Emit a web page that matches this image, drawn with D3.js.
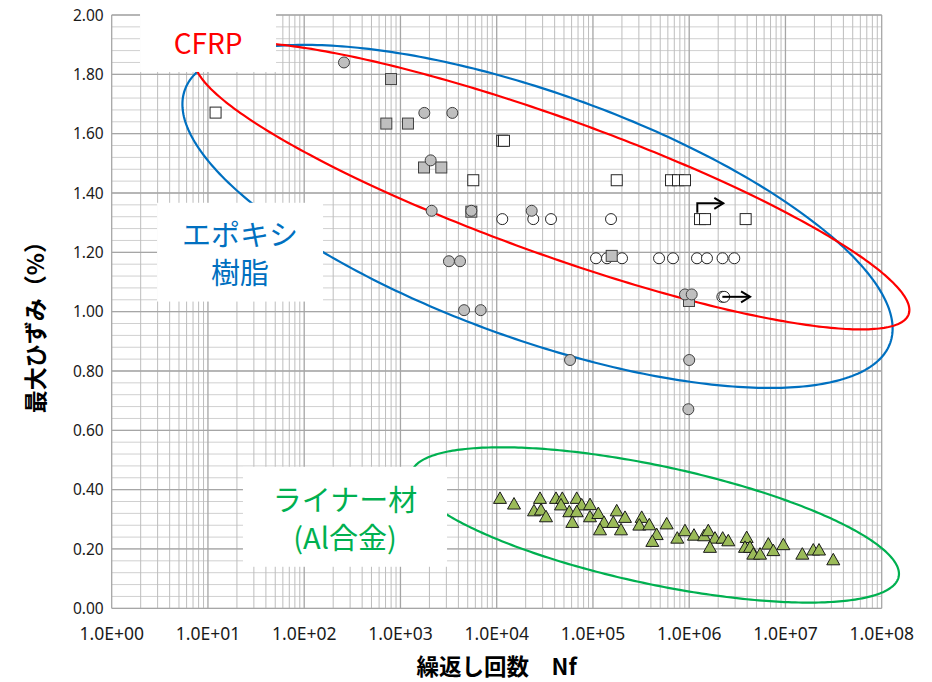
<!DOCTYPE html>
<html>
<head>
<meta charset="utf-8">
<script src="https://cdn.jsdelivr.net/npm/d3@7"></script>
<style>
body { margin: 0; background: #fff; }
svg { display: block; }
</style>
</head>
<body>
<script>
const width = 932;
const height = 682;
const plot = { left: 111.7, right: 881.7, top: 15, bottom: 608.3 };

// Data points: [cycles to failure Nf, max strain %]
const epoxyGray = [
    [259, 1.84], [1770, 1.67], [3460, 1.67], [2060, 1.51], [2110, 1.34],
    [5450, 1.34], [23100, 1.34], [3190, 1.17], [4160, 1.17], [4580, 1.005],
    [6820, 1.005], [57800, 0.837], [1.0e6, 0.837], [9.8e5, 0.671],
    [9.04e5, 1.058], [1.062e6, 1.058]
];
const epoxyOpen = [
    [11430, 1.312], [23990, 1.312], [36660, 1.312], [154100, 1.312],
    [107600, 1.18], [140000, 1.18], [200500, 1.18], [486000, 1.18], [679000, 1.18],
    [1205000, 1.18], [1530000, 1.18], [2220000, 1.18], [2940000, 1.18],
    [2210000, 1.05], [2310000, 1.05]
];
const cfrpGray = [
    [798, 1.784], [713, 1.634], [1197, 1.634], [1757, 1.486], [2657, 1.486],
    [5450, 1.337], [156600, 1.188], [995000, 1.036]
];
const cfrpOpen = [
    [12, 1.671], [11400, 1.576], [11900, 1.576], [5710, 1.443], [176600, 1.443],
    [647000, 1.443], [765000, 1.443], [904000, 1.443],
    [1295000, 1.312], [1460000, 1.312], [3860000, 1.312]
];
const liner = [
    [10820, 0.373], [15130, 0.354], [28170, 0.373], [24420, 0.331], [28850, 0.334],
    [32520, 0.311], [41300, 0.373], [48040, 0.373], [46580, 0.351], [67800, 0.373],
    [76400, 0.351], [93200, 0.352], [56800, 0.328], [67800, 0.328], [61000, 0.292],
    [93200, 0.311], [113700, 0.322], [130300, 0.292], [118400, 0.267], [162700, 0.292],
    [176600, 0.331], [215300, 0.309], [195500, 0.267], [320900, 0.309], [303200, 0.283],
    [385000, 0.284], [459500, 0.251], [414000, 0.228], [583600, 0.287], [752000, 0.239],
    [904000, 0.264], [1121000, 0.249], [1426000, 0.247], [1578000, 0.264], [1853000, 0.239],
    [1643000, 0.208], [2228000, 0.239], [2548000, 0.230], [3956000, 0.241], [3800000, 0.208],
    [4285000, 0.208], [4637000, 0.185], [5445000, 0.185], [6640000, 0.219], [7480000, 0.197],
    [9510000, 0.217], [14970000, 0.185], [19460000, 0.199], [22320000, 0.199], [31400000, 0.166]
];

// run-out arrows (not failed)
const runoutArrows = [
    [[1214000, 1.333], [1214000, 1.365], [2260000, 1.365]],
    [[2210000, 1.05], [4290000, 1.05]]
];

// group ellipses: centre, end of long axis, end of short axis
const ellipses = [
    { color: "#0070c0", center: [26550, 1.321], tip: [1.227e8, 0.895], side: [9977, 0.930] },
    { color: "#ff0000", center: [37580, 1.424], tip: [1.905e8, 0.991], side: [21680, 1.208] },
    { color: "#00b050", center: [441600, 0.281], tip: [1.50e8, 0.106], side: [328900, 0.0863] }
];

const labels = [
    { lines: ["CFRP"], color: "#ff0000", size: 28, xs: [1.97, 51], ys: [2.007, 1.808] },
    { lines: ["エポキシ", "樹脂"], color: "#0070c0", size: 29, xs: [2.96, 157], ys: [1.367, 1.034] },
    { lines: ["ライナー材", "(Al合金)"], color: "#00b050", size: 29, xs: [23.1, 3048], ys: [0.477, 0.140] }
];

const xTicks = [1e0, 1e1, 1e2, 1e3, 1e4, 1e5, 1e6, 1e7, 1e8];
const yTicks = [0, 0.2, 0.4, 0.6, 0.8, 1.0, 1.2, 1.4, 1.6, 1.8, 2.0];
const yMinorStep = 0.04;

const svg = d3.select("body").append("svg")
    .attr("width", width)
    .attr("height", height);

const x = d3.scaleLog().domain([1, 1e8]).range([plot.left, plot.right]);
const y = d3.scaleLinear().domain([0, 2]).range([plot.bottom, plot.top]);

// grid
const grid = svg.append("g");
grid.selectAll("line.hminor")
    .data(d3.range(0, 2 + 1e-9, yMinorStep))
    .enter().append("line")
    .attr("x1", plot.left).attr("x2", plot.right)
    .attr("y1", d => y(d)).attr("y2", d => y(d))
    .attr("stroke", "#d0d0d0").attr("stroke-width", 1);
grid.selectAll("line.vminor")
    .data(x.ticks().filter(t => Math.abs(Math.log10(t) % 1) > 1e-6))
    .enter().append("line")
    .attr("x1", d => x(d)).attr("x2", d => x(d))
    .attr("y1", plot.top).attr("y2", plot.bottom)
    .attr("stroke", "#bdbdbd").attr("stroke-width", 1);
grid.selectAll("line.hmajor")
    .data(yTicks)
    .enter().append("line")
    .attr("x1", plot.left).attr("x2", plot.right)
    .attr("y1", d => y(d)).attr("y2", d => y(d))
    .attr("stroke", "#a6a6a6").attr("stroke-width", 1.3);
grid.selectAll("line.vmajor")
    .data(xTicks)
    .enter().append("line")
    .attr("x1", d => x(d)).attr("x2", d => x(d))
    .attr("y1", plot.top).attr("y2", plot.bottom)
    .attr("stroke", "#a6a6a6").attr("stroke-width", 1.3);

// tick labels
svg.append("g").selectAll("text")
    .data(yTicks)
    .enter().append("text")
    .attr("x", plot.left - 8)
    .attr("y", d => y(d))
    .attr("dy", "0.36em")
    .attr("text-anchor", "end")
    .attr("font-family", "'Noto Sans', sans-serif")
    .attr("font-size", 15.5)
    .attr("fill", "#1a1a1a")
    .text(d3.format(".2f"));

svg.append("g").selectAll("text")
    .data(xTicks)
    .enter().append("text")
    .attr("x", d => x(d))
    .attr("y", 640)
    .attr("text-anchor", "middle")
    .attr("font-family", "'Noto Sans', sans-serif")
    .attr("font-size", 17.5)
    .attr("fill", "#1a1a1a")
    .text(d => "1.0E+" + String(Math.round(Math.log10(d))).padStart(2, "0"));

// axis titles
svg.append("text")
    .attr("transform", `translate(34,${(plot.top + plot.bottom) / 2 + 10}) rotate(-90)`)
    .attr("text-anchor", "middle")
    .attr("dominant-baseline", "central")
    .attr("font-family", "'Noto Sans CJK JP', sans-serif")
    .attr("font-weight", 700)
    .attr("font-size", 23)
    .text("最大ひずみ（%）");

svg.append("text")
    .attr("x", (plot.left + plot.right) / 2)
    .attr("y", 665)
    .attr("text-anchor", "middle")
    .attr("dominant-baseline", "central")
    .attr("font-family", "'Noto Sans CJK JP', sans-serif")
    .attr("font-weight", 700)
    .attr("font-size", 22.5)
    .text("繰返し回数　Nf");

// ellipses (affine in log-x / linear-y, so trace in pixel space)
const ring = d3.range(0, 2 * Math.PI, Math.PI / 180);
ellipses.forEach(e => {
    const c = [x(e.center[0]), y(e.center[1])];
    const t = [x(e.tip[0]) - c[0], y(e.tip[1]) - c[1]];
    const s = [x(e.side[0]) - c[0], y(e.side[1]) - c[1]];
    svg.append("path")
        .datum(ring)
        .attr("d", d3.line()
            .x(a => c[0] + Math.cos(a) * t[0] + Math.sin(a) * s[0])
            .y(a => c[1] + Math.cos(a) * t[1] + Math.sin(a) * s[1])
            .curve(d3.curveLinearClosed))
        .attr("fill", "none")
        .attr("stroke", e.color)
        .attr("stroke-width", 2.2);
});

// markers
const sq = 11;
function squares(data, fill, stroke) {
    svg.append("g").selectAll("rect")
        .data(data)
        .enter().append("rect")
        .attr("x", d => x(d[0]) - sq / 2)
        .attr("y", d => y(d[1]) - sq / 2)
        .attr("width", sq).attr("height", sq)
        .attr("fill", fill).attr("stroke", stroke).attr("stroke-width", 1);
}
function circles(data, fill, stroke) {
    svg.append("g").selectAll("circle")
        .data(data)
        .enter().append("circle")
        .attr("cx", d => x(d[0]))
        .attr("cy", d => y(d[1]))
        .attr("r", 5.5)
        .attr("fill", fill).attr("stroke", stroke).attr("stroke-width", 1);
}

squares(cfrpOpen, "#ffffff", "#262626");
circles(epoxyOpen, "#ffffff", "#262626");
squares(cfrpGray, "#bfbfbf", "#404040");
circles(epoxyGray, "#bfbfbf", "#404040");

const tw = 13, th = 11.5;
svg.append("g").selectAll("path")
    .data(liner)
    .enter().append("path")
    .attr("d", d => {
        const px = x(d[0]), py = y(d[1]);
        return `M${px},${py - th / 2}L${px + tw / 2},${py + th / 2}L${px - tw / 2},${py + th / 2}Z`;
    })
    .attr("fill", "#9bbb59")
    .attr("stroke", "#1a1a1a")
    .attr("stroke-width", 1);

// run-out arrows
runoutArrows.forEach(pts => {
    const p = pts.map(d => [x(d[0]), y(d[1])]);
    svg.append("path")
        .attr("d", d3.line()(p))
        .attr("fill", "none")
        .attr("stroke", "#000")
        .attr("stroke-width", 2);
    const [ex, ey] = p[p.length - 1];
    svg.append("path")
        .attr("d", `M${ex - 9},${ey - 5.5}L${ex},${ey}L${ex - 9},${ey + 5.5}`)
        .attr("fill", "none")
        .attr("stroke", "#000")
        .attr("stroke-width", 2);
});

// label boxes (one text element per box, lines as tspans)
labels.forEach(l => {
    const x0 = x(l.xs[0]), x1 = x(l.xs[1]);
    const y0 = y(l.ys[0]), y1 = y(l.ys[1]);
    svg.append("rect")
        .attr("x", x0).attr("y", y0)
        .attr("width", x1 - x0).attr("height", y1 - y0)
        .attr("fill", "#fff");
    const lh = 38.5;
    const cy = (y0 + y1) / 2 - (l.lines.length - 1) * lh / 2;
    const txt = svg.append("text")
        .attr("text-anchor", "middle")
        .attr("dominant-baseline", "central")
        .attr("font-family", "'Noto Sans CJK JP', sans-serif")
        .attr("font-size", l.size)
        .attr("fill", l.color);
    txt.selectAll("tspan")
        .data(l.lines)
        .enter().append("tspan")
        .attr("x", (x0 + x1) / 2)
        .attr("y", (d, i) => cy + i * lh)
        .attr("dominant-baseline", "central")
        .text(d => d);
});
</script>
</body>
</html>
